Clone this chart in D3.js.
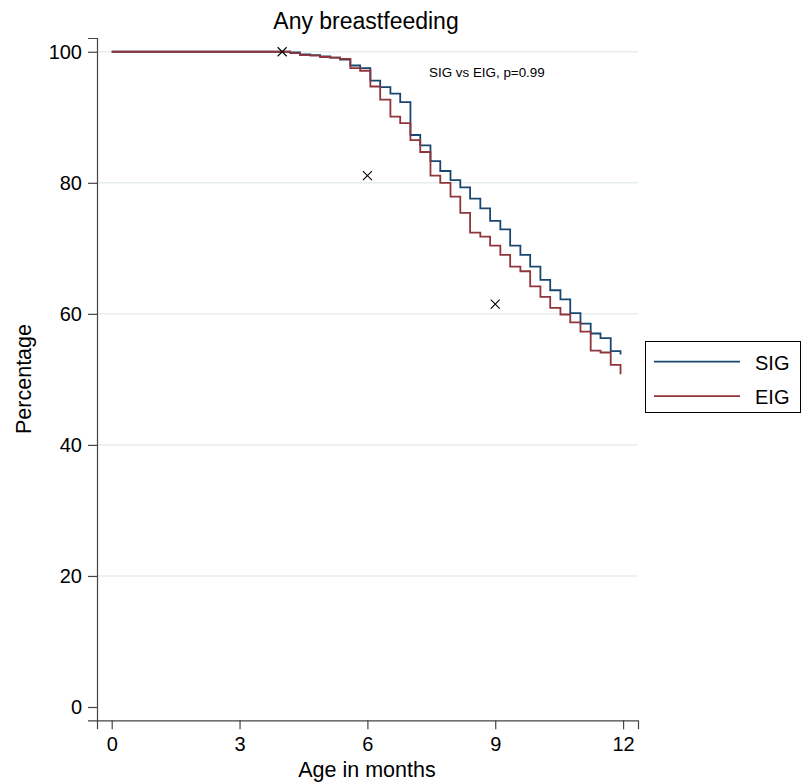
<!DOCTYPE html>
<html>
<head>
<meta charset="utf-8">
<script src="https://cdn.jsdelivr.net/npm/d3@7"></script>
<style>
  body { margin: 0; background: #fff; }
  text { font-family: "Liberation Sans", Arial, sans-serif; fill: #000; }
</style>
</head>
<body>
<div id="chart"></div>
<script>
// step times (months) where either curve drops
var stepTimes = [0, 4.19, 4.42, 4.66, 4.89, 5.13, 5.36, 5.60, 5.83, 6.07, 6.30, 6.54, 6.77,
    7.01, 7.24, 7.48, 7.71, 7.95, 8.18, 8.41, 8.65, 8.88, 9.12, 9.35, 9.59, 9.82,
    10.06, 10.29, 10.53, 10.76, 11.00, 11.24, 11.47, 11.71, 11.94];

// percentage still breastfeeding after each step
var sigValues = [100, 99.9, 99.6, 99.5, 99.3, 99.1, 98.8, 97.9, 97.5, 95.6, 94.6, 93.6, 92.3,
    87.3, 85.7, 83.3, 81.8, 80.4, 79.3, 77.6, 76.1, 74.2, 72.9, 70.4, 69.0, 67.2,
    65.2, 63.6, 62.2, 60.1, 58.5, 57.0, 56.3, 54.3, 53.8];
var eigValues = [100, 99.8, 99.5, 99.4, 99.2, 99.1, 98.9, 97.5, 97.1, 94.7, 92.7, 90.1, 89.1,
    86.5, 84.7, 81.1, 80.0, 77.9, 75.4, 72.4, 71.8, 70.4, 69.0, 67.2, 66.5, 64.2,
    62.6, 60.9, 59.9, 58.7, 57.3, 54.4, 54.1, 52.2, 50.8];

// reference points marked with x
var refMonths = [4, 6, 9];
var refValues = [100, 81.1, 61.5];

var xTicks = [0, 3, 6, 9, 12];
var yTicks = [0, 20, 40, 60, 80, 100];

var seriesNames = ["SIG", "EIG"];
var seriesColors = ["#1a476f", "#90353b"];

var width = 803, height = 783;

var svg = d3.select("#chart")
    .append("svg")
    .attr("width", width)
    .attr("height", height);

// axis domains run a bit past the data like Stata does
var x = d3.scaleLinear().domain([-0.345, 12.35]).range([97, 638]);
var y = d3.scaleLinear().domain([-2.03, 102.1]).range([720.3, 38]);

// gridlines
svg.append("g")
    .selectAll("line")
    .data(yTicks.filter(function (d) { return d > 0; }))
    .enter()
    .append("line")
    .attr("x1", 97)
    .attr("x2", 638)
    .attr("y1", function (d) { return y(d); })
    .attr("y2", function (d) { return y(d); })
    .attr("stroke", "#e6eef0")
    .attr("stroke-width", 1.5);

// axes
var xAxis = svg.append("g")
    .attr("transform", "translate(0,720.3)")
    .call(d3.axisBottom(x).tickValues(xTicks).tickSizeOuter(0).tickSize(9).tickPadding(8));

var yAxis = svg.append("g")
    .attr("transform", "translate(97,0)")
    .call(d3.axisLeft(y).tickValues(yTicks).tickSizeOuter(0).tickSize(9).tickPadding(6));

[xAxis, yAxis].forEach(function (a) {
    a.selectAll("path, line").attr("stroke", "#444").attr("stroke-width", 1.2);
    a.selectAll("text").style("font-size", "20px").attr("fill", "#000")
        .style("font-family", "'Liberation Sans', Arial, sans-serif");
});

// curves
var line = d3.line()
    .x(function (d) { return x(d[0]); })
    .y(function (d) { return y(d[1]); })
    .curve(d3.curveStepAfter);

[sigValues, eigValues].forEach(function (vals, i) {
    var pts = stepTimes.map(function (t, j) { return [t, vals[j]]; });
    svg.append("path")
        .datum(pts)
        .attr("d", line)
        .attr("fill", "none")
        .attr("stroke", seriesColors[i])
        .attr("stroke-width", 1.8);
});

// x markers
var s = 4.5;
svg.append("g")
    .selectAll("path")
    .data(refMonths.map(function (m, i) { return [m, refValues[i]]; }))
    .enter()
    .append("path")
    .attr("d", function (d) {
        var cx = x(d[0]), cy = y(d[1]);
        return "M" + (cx - s) + "," + (cy - s) + "L" + (cx + s) + "," + (cy + s) +
            "M" + (cx - s) + "," + (cy + s) + "L" + (cx + s) + "," + (cy - s);
    })
    .attr("stroke", "#000")
    .attr("stroke-width", 1.1)
    .attr("fill", "none");

// titles
svg.append("text")
    .attr("x", 366)
    .attr("y", 29)
    .attr("text-anchor", "middle")
    .style("font-size", "23px")
    .text("Any breastfeeding");

svg.append("text")
    .attr("x", 367)
    .attr("y", 777)
    .attr("text-anchor", "middle")
    .style("font-size", "21.5px")
    .text("Age in months");

svg.append("text")
    .attr("transform", "translate(31,379) rotate(-90)")
    .attr("text-anchor", "middle")
    .style("font-size", "21.5px")
    .text("Percentage");

svg.append("text")
    .attr("x", 429)
    .attr("y", 77)
    .style("font-size", "13.4px")
    .text("SIG vs EIG, p=0.99");

// legend
var legend = svg.append("g");
legend.append("rect")
    .attr("x", 645.5)
    .attr("y", 341.5)
    .attr("width", 155)
    .attr("height", 71)
    .attr("fill", "#fff")
    .attr("stroke", "#000")
    .attr("stroke-width", 1);

seriesNames.forEach(function (name, i) {
    var ly = 361.7 + i * 34.5;
    legend.append("line")
        .attr("x1", 654)
        .attr("x2", 740)
        .attr("y1", ly)
        .attr("y2", ly)
        .attr("stroke", seriesColors[i])
        .attr("stroke-width", 1.8);
    legend.append("text")
        .attr("x", 755)
        .attr("y", ly + 8)
        .style("font-size", "20px")
        .text(name);
});
</script>
</body>
</html>
